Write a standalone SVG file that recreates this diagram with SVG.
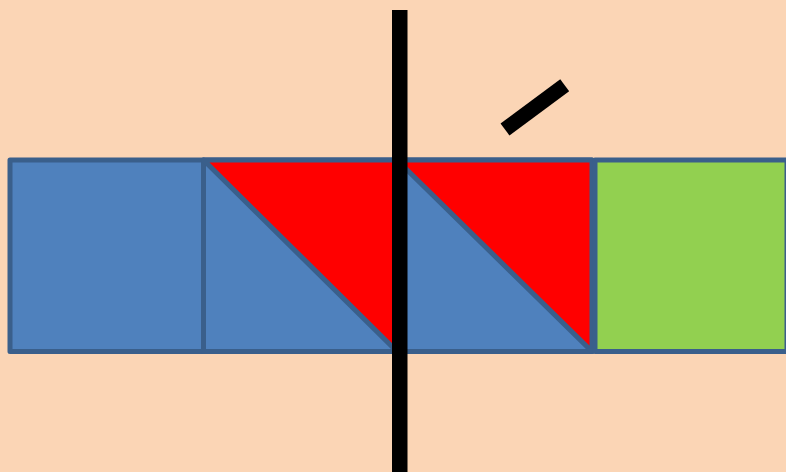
<svg xmlns="http://www.w3.org/2000/svg" width="786" height="472" viewBox="0 0 786 472">
<style>
.sq{stroke:#3A5F8B;stroke-width:5;stroke-linejoin:round}
.blue{fill:#4F81BD}
.green{fill:#92D050}
.red{fill:#FF0000}
</style>
<rect x="0" y="0" width="786" height="472" fill="#FBD5B5"/>
<g id="square1"><rect class="sq blue" x="10" y="160" width="193.5" height="191.5"/></g>
<g id="square2"><rect class="sq blue" x="203.5" y="160" width="193.5" height="191.5"/><polygon class="sq red" points="203.5,160 397,160 397,351.5"/></g>
<g id="square3"><rect class="sq blue" x="397" y="160" width="195" height="191.5"/><polygon class="sq red" points="397,160 592,160 592,351.5"/></g>
<g id="square4"><rect class="sq green" x="595" y="160" width="192" height="191.5"/></g>
<g id="lines">
<rect x="392" y="10" width="15.5" height="462" fill="#000"/>
<line x1="505" y1="129.5" x2="564.7" y2="85.3" stroke="#000" stroke-width="15"/>
</g>
</svg>
